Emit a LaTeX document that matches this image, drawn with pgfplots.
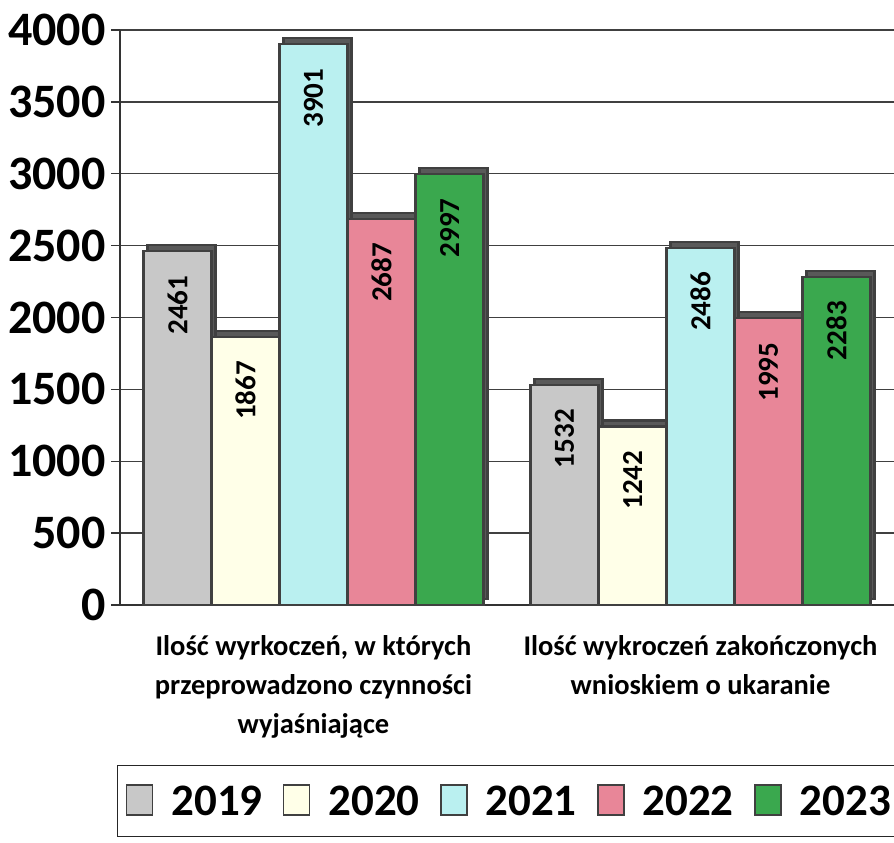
\documentclass[border=0pt]{standalone}
\usepackage{fontspec}
\setmainfont{Carlito}
\usepackage{pgfplots}
\pgfplotsset{compat=1.18}

\definecolor{c2019}{RGB}{200,200,200}
\definecolor{c2020}{RGB}{255,255,232}
\definecolor{c2021}{RGB}{186,240,240}
\definecolor{c2022}{RGB}{232,134,152}
\definecolor{c2023}{RGB}{58,168,78}

\makeatletter
\tikzset{nopre/.code={\let\tikz@preactions\pgfutil@empty}}
\makeatother
\tikzset{
  bar3d/.style={draw=black!75, line width=2.2pt,
    preaction={fill=black!65, transform canvas={shift={(4pt,6pt)}}}},
}

\begin{document}
\begin{tikzpicture}
\begin{axis}[
    at={(0,0)}, anchor=south west,
    scale only axis,
    width=774pt, height=575pt,
    xmin=-0.5, xmax=1.5,
    ymin=0, ymax=4000,
    ytick distance=500,
    axis x line*=bottom,
    axis y line*=left,
    axis line style={black!80, line width=1.5pt},
    ymajorgrids,
    major grid style={black!75, line width=1.5pt},
    tick align=outside,
    major tick length=9pt,
    tick style={black!80, line width=1.5pt},
    /pgf/number format/assume math mode=true,
    /pgf/number format/set thousands separator={},
    yticklabel style={font=\bfseries\fontsize{48}{48}\selectfont, xshift=-2pt},
    xtick={0,1},
    xtick style={draw=none},
    xticklabels={{Ilość wyrkoczeń, w których\\przeprowadzono czynności\\wyjaśniające},
                 {Ilość wykroczeń zakończonych\\wnioskiem o ukaranie}},
    xticklabel style={font=\bfseries\fontsize{28.5}{39}\selectfont, align=center, yshift=-18pt},
    extra x ticks={0.5,1.5},
    extra x tick labels={},
    extra x tick style={major tick length=14pt, tick style={draw=black!80}},
    ybar=0pt,
    bar width=68pt,
    enlarge x limits=false,
    nodes near coords,
    every node near coord/.append style={font=\bfseries\fontsize{29}{29}\selectfont,
        yshift=-20pt, rotate=90, anchor=east},
    legend columns=-1,
    legend style={at={(-0.004,-0.278)}, anchor=north west,
        draw=black!85, line width=1.5pt,
        font=\bfseries\fontsize{45}{45}\selectfont,
        inner xsep=8pt, inner ysep=18pt,
        /tikz/every odd column/.append style={column sep=16pt},
        /tikz/every even column/.append style={column sep=18pt}},
    legend image code/.code={\draw[#1, nopre, line width=1.8pt] (0pt,-14pt) rectangle (26pt,16pt);},
]
\addplot[bar3d, fill=c2019] coordinates {(0,2461) (1,1532)};
\addplot[bar3d, fill=c2020] coordinates {(0,1867) (1,1242)};
\addplot[bar3d, fill=c2021] coordinates {(0,3901) (1,2486)};
\addplot[bar3d, fill=c2022] coordinates {(0,2687) (1,1995)};
\addplot[bar3d, fill=c2023] coordinates {(0,2997) (1,2283)};
\legend{2019,2020,2021,2022,2023}
\end{axis}
\pgfresetboundingbox
\path (-120pt,-238pt) rectangle (774pt,605pt);
\end{tikzpicture}
\end{document}
